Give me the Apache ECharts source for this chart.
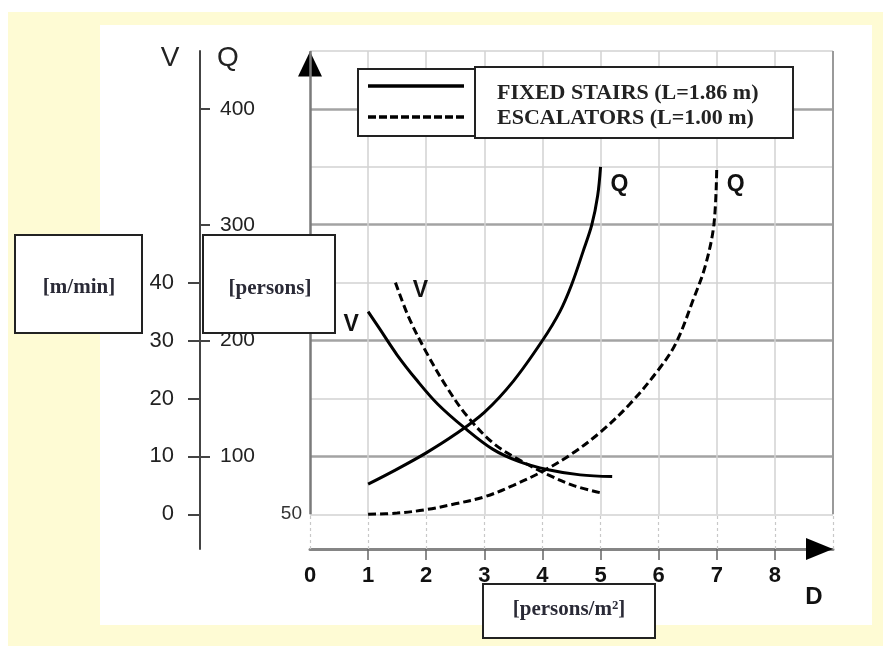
<!DOCTYPE html>
<html>
<head>
<meta charset="utf-8">
<script src="https://cdn.jsdelivr.net/npm/echarts@6/dist/echarts.min.js"></script>
<style>
  html, body { margin: 0; padding: 0; background: #ffffff; }
  #chart { width: 883px; height: 646px; }
</style>
</head>
<body>
<div id="chart"></div>
<script>
// Density D [persons/m²] on x; flow Q [persons] and speed V [m/min] on y
const dLabels = [0, 1, 2, 3, 4, 5, 6, 7, 8];
const dTickMarks = [1, 2, 3, 4, 5, 6, 7, 8];
const qLabels = [100, 200, 300, 400];
const vLabels = [0, 10, 20, 30, 40];
const qMinorLines = [50, 150, 250, 350, 450];
const qMajorLines = [100, 200, 300, 400];

// Fixed stairs (L = 1.86 m)
const stairsQ = [[1, 76], [1.5, 89], [2, 103], [2.5, 119], [3, 138], [3.5, 165], [4, 200],
  [4.3, 225], [4.5, 248], [4.7, 277], [4.85, 300], [4.95, 325], [5, 350]];
const stairsV = [[1, 35], [1.2, 32], [1.5, 27.5], [1.85, 23], [2.2, 19], [2.65, 15],
  [3.15, 11.2], [3.6, 9.1], [4.1, 7.7], [4.65, 6.8], [5.2, 6.5]];

// Escalators (L = 1.00 m)
const escQ = [[1, 50], [1.5, 51], [2, 54], [2.5, 59], [3, 65], [3.5, 75], [4, 87], [4.5, 102],
  [5, 121], [5.5, 145], [6, 175], [6.3, 198], [6.6, 236], [6.8, 264], [6.95, 300], [7, 350]];
const escV = [[1.47, 40], [1.7, 34], [2, 28], [2.35, 22], [2.7, 17], [3.15, 12.3],
  [3.6, 9.4], [4.1, 6.8], [4.55, 4.9], [5, 3.7]];

const D_MIN = 0, D_MAX = 9;
const Q_MIN = 20, Q_MAX = 450;
// V and Q share the same vertical scale: V = (Q - 50) / 5
const V_MIN = (Q_MIN - 50) / 5, V_MAX = (Q_MAX - 50) / 5;

const sans = "'Liberation Sans', Arial, sans-serif";

// background grid built through the axes' own scales
const minorStyle = { color: '#d2d2d2', width: 1.5, type: 'solid' };
const majorStyle = { color: '#a3a3a3', width: 2.5, type: 'solid' };
const dashStyle = { color: '#c8c8c8', width: 1.2, type: [3, 3] };
const gridLines = [];
qMinorLines.forEach(q => gridLines.push([{ coord: [D_MIN, q], lineStyle: minorStyle }, { coord: [D_MAX, q] }]));
qMajorLines.forEach(q => gridLines.push([{ coord: [D_MIN, q], lineStyle: majorStyle }, { coord: [D_MAX, q] }]));
dTickMarks.forEach(d => {
  gridLines.push([{ coord: [d, 50], lineStyle: minorStyle }, { coord: [d, Q_MAX] }]);
  gridLines.push([{ coord: [d, Q_MIN], lineStyle: dashStyle }, { coord: [d, 50] }]);
});
// right border and left axis line
gridLines.push([{ coord: [D_MAX, 50], lineStyle: { color: '#9a9a9a', width: 2, type: 'solid' } }, { coord: [D_MAX, Q_MAX] }]);
gridLines.push([{ coord: [D_MAX, Q_MIN], lineStyle: dashStyle }, { coord: [D_MAX, 50] }]);
gridLines.push([{ coord: [D_MIN, 50], lineStyle: { color: '#7a7a7a', width: 2.5, type: 'solid' } }, { coord: [D_MIN, Q_MAX] }]);
gridLines.push([{ coord: [D_MIN, Q_MIN], lineStyle: dashStyle }, { coord: [D_MIN, 50] }]);

const curveLabel = (text, offset) => ({
  symbol: 'circle', symbolSize: 1,
  itemStyle: { color: 'rgba(0,0,0,0)' },
  label: { show: true, formatter: text, offset: offset, color: '#111',
    fontFamily: sans, fontWeight: 'bold', fontSize: 23 },
  data: [{ type: 'max' }],
  silent: true
});

const chart = echarts.init(document.getElementById('chart'), null, { renderer: 'canvas' });

chart.setOption({
  animation: false,
  backgroundColor: '#ffffff',
  grid: { left: 310, top: 51, right: 50, bottom: 97, containLabel: false },
  xAxis: [
    {
      type: 'value', min: D_MIN, max: D_MAX, interval: 1, position: 'bottom',
      axisLine: { show: true, onZero: false, lineStyle: { color: '#858585', width: 3 } },
      axisTick: { show: true, customValues: dTickMarks, length: 11, lineStyle: { color: '#666', width: 1.5 } },
      axisLabel: { show: true, customValues: dLabels, margin: 16, color: '#111',
        fontFamily: sans, fontWeight: 'bold', fontSize: 22 },
      splitLine: { show: false }
    },
    {
      // arrow head only
      type: 'value', min: D_MIN, max: D_MAX, position: 'bottom',
      axisLine: { show: true, onZero: false, symbol: ['none', 'triangle'], symbolSize: [22, 27],
        symbolOffset: [0, -13.5], lineStyle: { color: '#000', width: 0 } },
      axisTick: { show: false }, axisLabel: { show: false }, splitLine: { show: false }
    }
  ],
  yAxis: [
    {
      // main flow scale at the plot edge
      type: 'value', min: Q_MIN, max: Q_MAX, position: 'left', offset: 0,
      axisLine: { show: false, onZero: false },
      axisTick: { show: false },
      axisLabel: { show: true, customValues: [50], margin: 8, color: '#333',
        fontFamily: sans, fontSize: 19 },
      splitLine: { show: false }
    },
    {
      // Q scale on the detached axis
      type: 'value', min: Q_MIN, max: Q_MAX, position: 'left', offset: 110,
      axisLine: { show: true, onZero: false, lineStyle: { color: '#444', width: 2 } },
      axisTick: { show: true, inside: true, customValues: qLabels, length: 10, lineStyle: { color: '#444', width: 2 } },
      axisLabel: { show: true, inside: true, customValues: qLabels, margin: 20, color: '#222',
        fontFamily: sans, fontSize: 21 },
      splitLine: { show: false }
    },
    {
      // V scale on the detached axis
      type: 'value', min: V_MIN, max: V_MAX, position: 'left', offset: 110,
      axisLine: { show: false, onZero: false },
      axisTick: { show: true, customValues: vLabels, length: 12, lineStyle: { color: '#444', width: 2 } },
      axisLabel: { show: true, customValues: vLabels, margin: 26, color: '#222',
        fontFamily: sans, fontSize: 22 },
      splitLine: { show: false }
    },
    {
      // arrow head only
      type: 'value', min: Q_MIN, max: Q_MAX, position: 'left', offset: 0,
      axisLine: { show: true, onZero: false, symbol: ['none', 'triangle'], symbolSize: [24, 25],
        symbolOffset: [0, -13], lineStyle: { color: '#000', width: 0 } },
      axisTick: { show: false }, axisLabel: { show: false }, splitLine: { show: false }
    }
  ],
  series: [
    {
      name: 'Q fixed stairs', type: 'line', xAxisIndex: 0, yAxisIndex: 0,
      data: stairsQ, smooth: 0.35, symbol: 'none', z: 5,
      lineStyle: { color: '#000', width: 3 },
      markPoint: curveLabel('Q', [19, 18]),
      markLine: {
        silent: true, symbol: ['none', 'none'], label: { show: false },
        emphasis: { disabled: true }, z: 1,
        data: gridLines
      }
    },
    {
      name: 'Q escalators', type: 'line', xAxisIndex: 0, yAxisIndex: 0,
      data: escQ, smooth: 0.35, symbol: 'none', z: 5,
      lineStyle: { color: '#000', width: 3, type: [8, 4] },
      markPoint: curveLabel('Q', [19, 18])
    },
    {
      name: 'V fixed stairs', type: 'line', xAxisIndex: 0, yAxisIndex: 2,
      data: stairsV, smooth: 0.35, symbol: 'none', z: 5,
      lineStyle: { color: '#000', width: 3 },
      markPoint: curveLabel('V', [-17, 13])
    },
    {
      name: 'V escalators', type: 'line', xAxisIndex: 0, yAxisIndex: 2,
      data: escV, smooth: 0.35, symbol: 'none', z: 5,
      lineStyle: { color: '#000', width: 3, type: [8, 4] },
      markPoint: curveLabel('V', [25, 8])
    }
  ],
  graphic: [
    // page frame
    { type: 'rect', z: -20, silent: true, shape: { x: 8, y: 12, width: 875, height: 634 }, style: { fill: '#fefbd4' } },
    { type: 'rect', z: -19, silent: true, shape: { x: 100, y: 25, width: 772, height: 600 }, style: { fill: '#ffffff' } },

    // axis titles
    { type: 'text', z: 50, style: { text: 'V', x: 170, y: 58, align: 'center', verticalAlign: 'middle',
      font: "28px 'Liberation Sans', Arial, sans-serif", fill: '#222' } },
    { type: 'text', z: 50, style: { text: 'Q', x: 228, y: 58, align: 'center', verticalAlign: 'middle',
      font: "28px 'Liberation Sans', Arial, sans-serif", fill: '#222' } },
    { type: 'text', z: 50, style: { text: 'D', x: 814, y: 597, align: 'center', verticalAlign: 'middle',
      font: "bold 24px 'Liberation Sans', Arial, sans-serif", fill: '#111' } },

    // unit boxes
    { type: 'rect', z: 60, shape: { x: 15, y: 235, width: 127, height: 98 }, style: { fill: '#fff', stroke: '#222', lineWidth: 2 } },
    { type: 'text', z: 61, style: { text: '[m/min]', x: 79, y: 288, align: 'center', verticalAlign: 'middle',
      font: "bold 21px 'Liberation Serif', 'Times New Roman', serif", fill: '#2a2a36' } },
    { type: 'rect', z: 60, shape: { x: 203, y: 235, width: 132, height: 98 }, style: { fill: '#fff', stroke: '#222', lineWidth: 2 } },
    { type: 'text', z: 61, style: { text: '[persons]', x: 270, y: 289, align: 'center', verticalAlign: 'middle',
      font: "bold 21px 'Liberation Serif', 'Times New Roman', serif", fill: '#2a2a36' } },
    { type: 'rect', z: 60, shape: { x: 483, y: 584, width: 172, height: 54 }, style: { fill: '#fff', stroke: '#222', lineWidth: 2 } },
    { type: 'text', z: 61, style: { text: '[persons/m²]', x: 569, y: 610, align: 'center', verticalAlign: 'middle',
      font: "bold 21px 'Liberation Serif', 'Times New Roman', serif", fill: '#2a2a36' } },

    // legend
    { type: 'rect', z: 60, shape: { x: 358, y: 69, width: 117, height: 67 }, style: { fill: '#fff', stroke: '#222', lineWidth: 2 } },
    { type: 'rect', z: 60, shape: { x: 475, y: 67, width: 318, height: 71 }, style: { fill: '#fff', stroke: '#222', lineWidth: 2 } },
    { type: 'line', z: 61, shape: { x1: 368, y1: 86, x2: 464, y2: 86 }, style: { stroke: '#000', lineWidth: 3.5 } },
    { type: 'line', z: 61, shape: { x1: 368, y1: 117, x2: 464, y2: 117 }, style: { stroke: '#000', lineWidth: 3.5, lineDash: [8, 3] } },
    { type: 'text', z: 61, style: { text: 'FIXED STAIRS (L=1.86 m)', x: 497, y: 93, verticalAlign: 'middle',
      font: "bold 22px 'Liberation Serif', 'Times New Roman', serif", fill: '#222' } },
    { type: 'text', z: 61, style: { text: 'ESCALATORS (L=1.00 m)', x: 497, y: 118, verticalAlign: 'middle',
      font: "bold 22px 'Liberation Serif', 'Times New Roman', serif", fill: '#222' } }
  ]
});
</script>
</body>
</html>
